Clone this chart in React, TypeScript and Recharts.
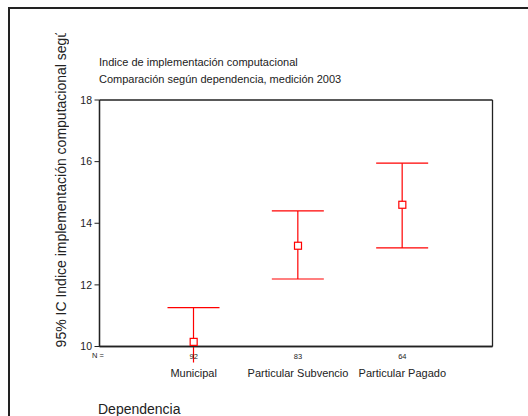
import React from 'react';
import { ComposedChart, Bar, Line, XAxis, YAxis, CartesianGrid } from 'recharts';

const categories = ['Municipal', 'Particular Subvencio', 'Particular Pagado'];
const counts = [92, 83, 64];
const means = [10.15, 13.27, 14.6];
const lower = [9.48, 12.19, 13.2];
const upper = [11.26, 14.4, 15.95];
const yTicks = [10, 12, 14, 16, 18];

const RED = '#ff0000';
const FONT = '"Liberation Sans", Arial, sans-serif';
const yMin = yTicks[0];
const yMax = yTicks[yTicks.length - 1];

// the bar range is kept inside the axis so the domain stays 10-18;
// the part of the interval below the axis is drawn as an extension of the whisker
const data = categories.map((name, i) => ({
  name,
  n: counts[i],
  mean: means[i],
  lo: lower[i],
  hi: upper[i],
  ci: [Math.max(lower[i], yMin), Math.min(upper[i], yMax)],
}));

const Whisker = (props: any) => {
  const { x, y, width, height, payload } = props;
  const cx = x + width / 2;
  const top = Math.min(y, y + height);
  const bottom = Math.max(y, y + height);
  const [cLo, cHi] = payload.ci;
  const ppu = (bottom - top) / (cHi - cLo);
  const extBottom = bottom + (cLo - payload.lo) * ppu;
  const extTop = top - (payload.hi - cHi) * ppu;
  return (
    <g stroke={RED} strokeWidth={1.2}>
      <line x1={cx} x2={cx} y1={extTop} y2={extBottom} />
      {payload.hi <= yMax && <line x1={x} x2={x + width} y1={top} y2={top} />}
      {payload.lo >= yMin && <line x1={x} x2={x + width} y1={bottom} y2={bottom} />}
    </g>
  );
};

const MeanSquare = (props: any) => {
  const { cx, cy } = props;
  if (cx == null || cy == null) return null;
  return <rect x={cx - 3.5} y={cy - 3.5} width={7} height={7} fill="#fff" stroke={RED} strokeWidth={1.2} />;
};

const CategoryTick = (props: any) => {
  const { x, y, payload, index } = props;
  return (
    <g fontFamily={FONT}>
      <text x={x} y={y + 12.5} textAnchor="middle" fontSize={7.5} fill="#222">
        {counts[index]}
      </text>
      <text x={x} y={y + 30.5} textAnchor="middle" fontSize={11} fill="#222">
        {payload.value}
      </text>
    </g>
  );
};

const textStyle: React.CSSProperties = {
  position: 'absolute',
  fontFamily: FONT,
  color: '#222',
  whiteSpace: 'nowrap',
  lineHeight: 1,
};

export default function App() {
  return (
    <div
      style={{
        position: 'fixed',
        left: 0,
        top: 0,
        width: 528,
        height: 416,
        overflow: 'hidden',
        background: '#fff',
      }}
    >
      <div
        style={{
          position: 'absolute',
          left: 8,
          top: 7,
          width: 640,
          height: 520,
          border: '2px solid #222',
        }}
      />
      <ComposedChart
        width={528}
        height={416}
        data={data}
        margin={{ top: 100, right: 35.5, bottom: 39.5, left: 59.5 }}
        style={{ position: 'absolute', left: 0, top: 0 }}
      >
        <CartesianGrid
          stroke="#222"
          strokeWidth={1.3}
          horizontalCoordinatesGenerator={({ offset }: any) => [offset.top, offset.top + offset.height]}
          verticalCoordinatesGenerator={({ offset }: any) => [offset.left, offset.left + offset.width]}
        />
        <XAxis
          dataKey="name"
          height={30}
          padding={{ left: 42, right: 38 }}
          tickSize={0}
          tickMargin={0}
          tickLine={false}
          axisLine={{ stroke: '#222', strokeWidth: 1.3 }}
          tick={<CategoryTick />}
          interval={0}
        />
        <YAxis
          width={40}
          domain={[yMin, yMax]}
          ticks={yTicks}
          tickSize={5}
          tickMargin={2.5}
          tick={{ fontSize: 10.5, fill: '#222', fontFamily: FONT }}
          tickLine={{ stroke: '#222' }}
          axisLine={{ stroke: '#222', strokeWidth: 1.3 }}
        />
        <Bar dataKey="ci" barSize={52} shape={<Whisker />} isAnimationActive={false} />
        <Line
          dataKey="mean"
          stroke="none"
          dot={<MeanSquare />}
          activeDot={false}
          isAnimationActive={false}
        />
      </ComposedChart>
      <div style={{ ...textStyle, left: 99, top: 57, fontSize: 11 }}>Indice de implementación computacional</div>
      <div style={{ ...textStyle, left: 99, top: 74, fontSize: 11 }}>Comparación según dependencia, medición 2003</div>
      <div style={{ ...textStyle, left: 92, top: 352, fontSize: 7.5 }}>N =</div>
      <div style={{ ...textStyle, left: 98, top: 402, fontSize: 14 }}>Dependencia</div>
      <div
        style={{
          position: 'absolute',
          left: 53,
          top: 33,
          width: 16,
          height: 314,
          overflow: 'hidden',
        }}
      >
        <div
          style={{
            ...textStyle,
            position: 'absolute',
            left: 0,
            bottom: 0,
            fontSize: 14,
            lineHeight: '16px',
            writingMode: 'vertical-rl',
            transform: 'rotate(180deg)',
          }}
        >
          95% IC Indice implementación computacional según dependencia
        </div>
      </div>
    </div>
  );
}
